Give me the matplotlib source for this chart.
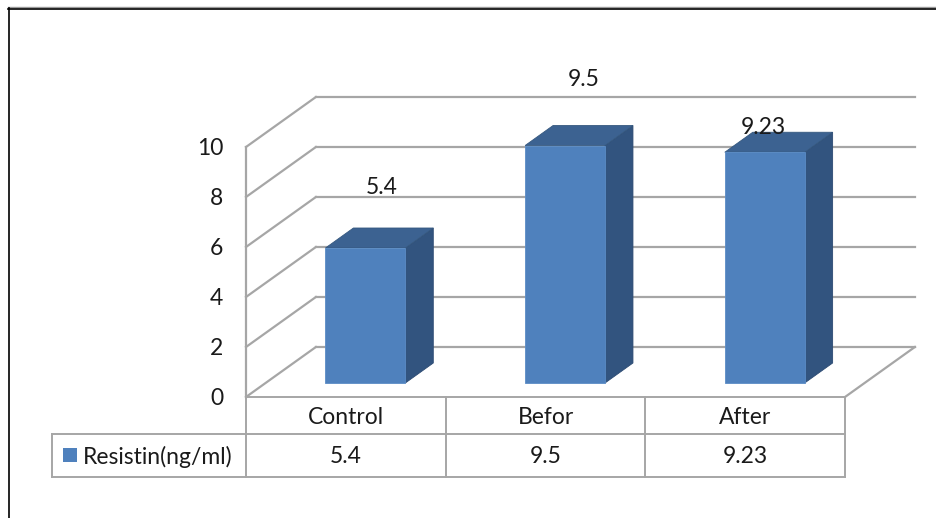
import matplotlib.pyplot as plt
from matplotlib.patches import Polygon, Rectangle

plt.rcParams['font.family'] = ['Lato', 'DejaVu Sans']

categories = ['Control', 'Befor', 'After']
values = [5.4, 9.5, 9.23]
series_name = 'Resistin(ng/ml)'
y_ticks = [0, 2, 4, 6, 8, 10]
value_texts = ['5.4', '9.5', '9.23']

# where each value label sits relative to its bar top (category units, value units)
label_shift = [(0.18, 3.0), (0.19, 3.18), (0.09, 1.53)]

FRONT = '#4f81bd'
TOP = '#3c6291'
SIDE = '#32547f'
GRID = '#a6a6a6'
TXT = '#1a1a1a'
FS = 16.5

# oblique depth vector in data units (x in categories, y in values)
DX, DY = 0.35, 2.0
BAR_HALF = 0.2
D0, D1 = 0.28, 0.68


def proj(x, v, d):
    return (x + d * DX, v + d * DY)


W, H = 936, 518
fig = plt.figure(figsize=(W / 100, H / 100), dpi=100)

# pixel overlay for frame and data table
pix = fig.add_axes([0, 0, 1, 1])
pix.set_xlim(0, W)
pix.set_ylim(H, 0)
pix.axis('off')

x_left, x_right = 246, 845
y_zero, y_top = 397, 147
ax = fig.add_axes([x_left / W, (H - y_zero) / H, (x_right - x_left) / W, (y_zero - y_top) / H])
ax.set_xlim(0, 3)
ax.set_ylim(0, 10)
ax.axis('off')

# walls and grid
n = len(categories)
for v in y_ticks:
    bx0, by = proj(0, v, 1)
    bx1, _ = proj(n, v, 1)
    ax.plot([bx0, bx1], [by, by], color=GRID, lw=1.6, clip_on=False, zorder=1)
    ax.plot([0, bx0], [v, by], color=GRID, lw=1.6, clip_on=False, zorder=1)
ax.plot([0, 0], [0, max(y_ticks)], color=GRID, lw=1.6, clip_on=False, zorder=1)
fx, fy = proj(n, 0, 1)
ax.plot([n, fx], [0, fy], color=GRID, lw=1.6, clip_on=False, zorder=1)

for v in y_ticks:
    ax.text(-0.115, v - 0.06, str(v), ha='right', va='center', fontsize=FS,
            color=TXT, clip_on=False)

# 3d bars
for i, v in enumerate(values):
    x0 = i + 0.5 - BAR_HALF
    x1 = i + 0.5 + BAR_HALF
    front = [proj(x0, 0, D0), proj(x1, 0, D0), proj(x1, v, D0), proj(x0, v, D0)]
    top = [proj(x0, v, D0), proj(x1, v, D0), proj(x1, v, D1), proj(x0, v, D1)]
    side = [proj(x1, 0, D0), proj(x1, 0, D1), proj(x1, v, D1), proj(x1, v, D0)]
    ax.add_patch(Polygon(side, closed=True, fc=SIDE, ec='#2c4a72', lw=0.6, clip_on=False, zorder=3))
    ax.add_patch(Polygon(top, closed=True, fc=TOP, ec='#35587f', lw=0.6, clip_on=False, zorder=3))
    ax.add_patch(Polygon(front, closed=True, fc=FRONT, ec='#5b8cc6', lw=0.6, clip_on=False, zorder=4))
    sx, sy = label_shift[i]
    ax.text(i + 0.5 + sx, v + sy, value_texts[i], ha='center', va='center',
            fontsize=FS, color=TXT, clip_on=False, zorder=5)

# data table
col_w = (x_right - x_left) / n
row1, row2, row3 = 397, 434, 477
tab_left = 52
pix.plot([x_left, x_right], [row1, row1], color=GRID, lw=1.4)
pix.plot([tab_left, x_right], [row2, row2], color=GRID, lw=1.4)
pix.plot([tab_left, x_right], [row3, row3], color=GRID, lw=1.4)
pix.plot([tab_left, tab_left], [row2, row3], color=GRID, lw=1.4)
for k in range(n + 1):
    xk = x_left + k * col_w
    pix.plot([xk, xk], [row1, row3], color=GRID, lw=1.4)
for i, c in enumerate(categories):
    cx = x_left + (i + 0.5) * col_w
    pix.text(cx, (row1 + row2) / 2 + 2, c, ha='center', va='center', fontsize=FS, color=TXT)
    pix.text(cx, (row2 + row3) / 2 + 1, value_texts[i], ha='center', va='center', fontsize=FS, color=TXT)
pix.add_patch(Rectangle((63, 448), 14, 14, fc=FRONT, ec='none'))
pix.text(83, (row2 + row3) / 2 + 1, series_name, ha='left', va='center', fontsize=FS, color=TXT)

# outer frame
pix.plot([8, W], [7, 7], color='#9a9a9a', lw=1.0)
pix.plot([8, W], [8.5, 8.5], color='black', lw=1.2)
pix.plot([8.5, 8.5], [8, H], color='black', lw=1.2)

fig.savefig('out.png', dpi=100)
